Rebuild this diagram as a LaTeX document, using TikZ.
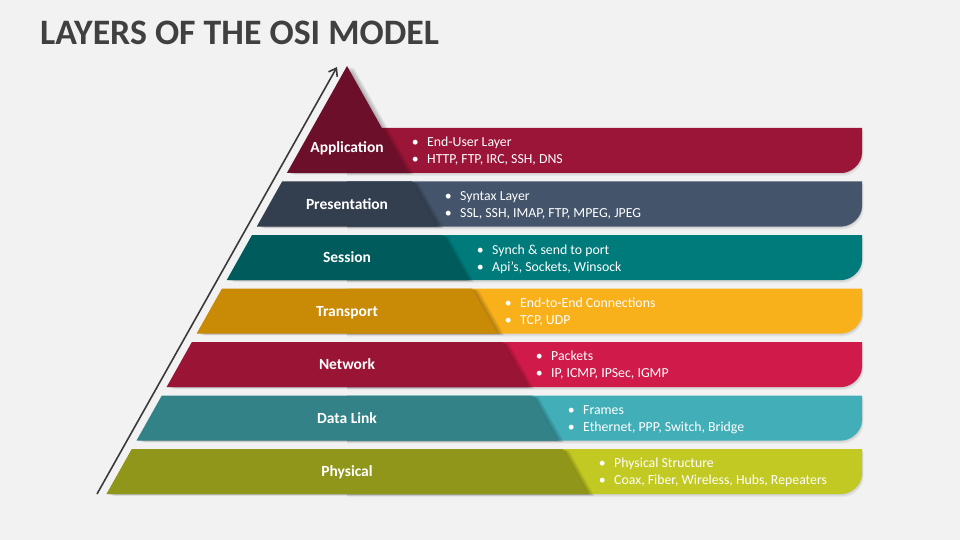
\documentclass[tikz,border=0pt]{standalone}
\usepackage{fontspec}
\setmainfont{Carlito}
\usetikzlibrary{arrows.meta}
\definecolor{bg}{HTML}{F2F2F2}
\definecolor{titlegray}{HTML}{404040}
\definecolor{arrowgray}{HTML}{3A3A3A}
\definecolor{pA}{HTML}{6B0F2A}\definecolor{bA}{HTML}{9B1538}
\definecolor{pB}{HTML}{333F4F}\definecolor{bB}{HTML}{44546A}
\definecolor{pC}{HTML}{005C5C}\definecolor{bC}{HTML}{007B7B}
\definecolor{pD}{HTML}{C98A05}\definecolor{bD}{HTML}{F8B11B}
\definecolor{pE}{HTML}{9A1436}\definecolor{bE}{HTML}{CF1A4A}
\definecolor{pF}{HTML}{338287}\definecolor{bF}{HTML}{42AFB8}
\definecolor{pG}{HTML}{909619}\definecolor{bG}{HTML}{C2C922}
\begin{document}
\begin{tikzpicture}[x=1pt,y=-1pt,
  lbl/.style={text=white, font=\fontsize{15.5}{18}\selectfont\bfseries, inner sep=0pt, anchor=base},
  itm/.style={text=white, font=\fontsize{13.8}{17}\selectfont, inner sep=0pt, anchor=base west},
  titletext/.style={anchor=base west, inner sep=0pt, text=titlegray, font=\fontsize{35.8}{40}\selectfont\bfseries},
  shadowfill/.style={fill=black, fill opacity=0.045}]
\fill[bg] (0,0) rectangle (960,540);
\useasboundingbox (0,0) rectangle (960,540);

\node[titletext] (title) at (40,45) {LAYERS OF THE OSI MODEL};

% bands (right-hand coloured strips)
\foreach \i/\bc in {0/bA,1/bB,2/bC,3/bD,4/bE,5/bF,6/bG}{
  \pgfmathsetmacro{\T}{128+53.5*\i}
  \pgfmathsetmacro{\B}{\T+45}
  \pgfmathsetmacro{\Bm}{\B-20}
  \pgfmathsetmacro{\Bn}{\B-9}
  \foreach \s in {1,2,3}{
    \fill[shadowfill] (347,\T+\s) -- (862+\s*0.5,\T+\s) -- (862+\s*0.5,\Bm+\s)
      .. controls (862+\s*0.5,\Bn+\s) and (851+\s*0.5,\B+\s) .. (842+\s*0.5,\B+\s) -- (347,\B+\s) -- cycle;
  }
  \fill[\bc] (347,\T) -- (862,\T) -- (862,\Bm) .. controls (862,\Bn) and (851,\B) .. (842,\B) -- (347,\B) -- cycle;
}

% pyramid pieces
\foreach \i/\pc in {0/pA,1/pB,2/pC,3/pD,4/pE,5/pF,6/pG}{
  \pgfmathsetmacro{\T}{ifthenelse(\i==0,66,128+53.5*\i)}
  \pgfmathsetmacro{\B}{128+53.5*\i+45}
  \pgfmathsetmacro{\xLT}{347-0.562*(\T-66)}
  \pgfmathsetmacro{\xRT}{347+0.562*(\T-66)}
  \pgfmathsetmacro{\xLB}{347-0.562*(\B-66)}
  \pgfmathsetmacro{\xRB}{347+0.562*(\B-66)}
  \foreach \s in {1,...,7}{
    \fill[shadowfill] (\xLT+\s,\T+\s*0.25) -- (\xRT+\s,\T+\s*0.25) -- (\xRB+\s,\B+\s*0.25) -- (\xLB+\s,\B+\s*0.25) -- cycle;
  }
  \fill[\pc] (\xLT,\T) -- (\xRT,\T) -- (\xRB,\B) -- (\xLB,\B) -- cycle;
}

% layer labels
\node[lbl] (lApp)  at (347,153)   {Application};
\node[lbl] (lPres) at (347,209)   {Presentation};
\node[lbl] (lSess) at (347,262.5) {Session};
\node[lbl] (lTran) at (347,316)   {Transport};
\node[lbl] (lNet)  at (347,369.5) {Network};
\node[lbl] (lDL)   at (347,423)   {Data Link};
\node[lbl] (lPhys) at (347,476.5) {Physical};

% bullet items
\newcommand{\bul}{\makebox[15.4pt][l]{\textbullet}}
\node[itm] (a1) at (411.6,147)   {\bul End-User Layer};
\node[itm] (a2) at (411.6,164)   {\bul HTTP, FTP, IRC, SSH, DNS};
\node[itm] (b1) at (444.6,200.5) {\bul Syntax Layer};
\node[itm] (b2) at (444.6,217.5) {\bul SSL, SSH, IMAP, FTP, MPEG, JPEG};
\node[itm] (c1) at (476.6,254)   {\bul Synch \& send to port};
\node[itm] (c2) at (476.6,271)   {\bul Api’s, Sockets, Winsock};
\node[itm] (d1) at (504.6,307)   {\bul End-to-End Connections};
\node[itm] (d2) at (504.6,324)   {\bul TCP, UDP};
\node[itm] (e1) at (535.6,360.5) {\bul Packets};
\node[itm] (e2) at (535.6,377.5) {\bul IP, ICMP, IPSec, IGMP};
\node[itm] (f1) at (567.6,414)   {\bul Frames};
\node[itm] (f2) at (567.6,431)   {\bul Ethernet, PPP, Switch, Bridge};
\node[itm] (g1) at (598.6,467.5) {\bul Physical Structure};
\node[itm] (g2) at (598.6,484.5) {\bul Coax, Fiber, Wireless, Hubs, Repeaters};

% arrow
\coordinate (arrS) at (97,494);
\coordinate (arrE) at (337,67);
\draw[arrowgray, line width=1.6pt, -{Straight Barb[length=7pt,width=10pt]}] (arrS) -- (arrE);
\end{tikzpicture}
\end{document}
